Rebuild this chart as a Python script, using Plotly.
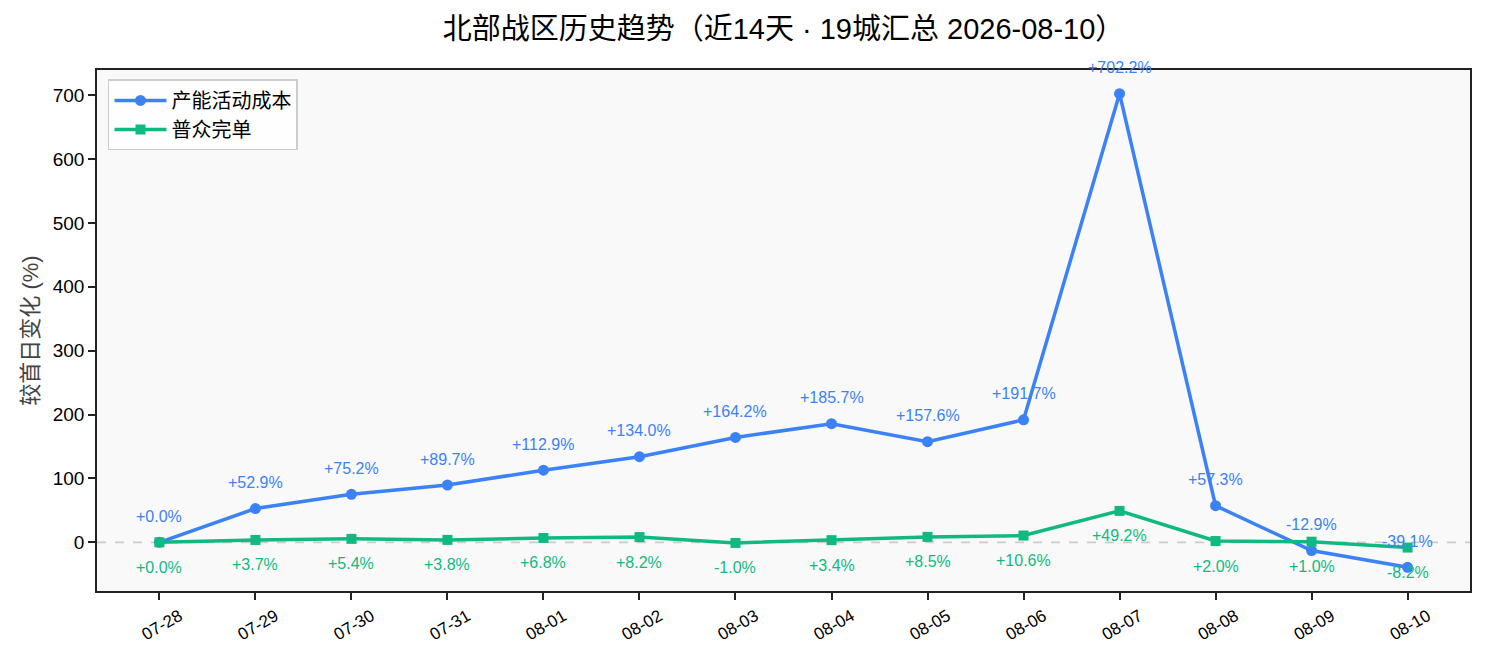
import plotly.graph_objects as go

dates = ["07-28", "07-29", "07-30", "07-31", "08-01", "08-02", "08-03",
         "08-04", "08-05", "08-06", "08-07", "08-08", "08-09", "08-10"]
capacity_cost = [0.0, 52.9, 75.2, 89.7, 112.9, 134.0, 164.2,
                 185.7, 157.6, 191.7, 702.2, 57.3, -12.9, -39.1]
ordinary_done = [0.0, 3.7, 5.4, 3.8, 6.8, 8.2, -1.0,
                 3.4, 8.5, 10.6, 49.2, 2.0, 1.0, -8.2]
series_names = ["产能活动成本", "普众完单"]
title_text = "北部战区历史趋势（近14天 · 19城汇总 2026-08-10）"
ytitle = "较首日变化 (%)"
ytick_vals = [0, 100, 200, 300, 400, 500, 600, 700]

BLUE = "#3b82f6"
GREEN = "#10b981"
FONT = "Liberation Sans, Arial, Noto Sans CJK SC, sans-serif"

x_idx = list(range(len(dates)))

fig = go.Figure()
fig.add_trace(go.Scatter(
    x=x_idx, y=capacity_cost, name=series_names[0], mode="lines+markers",
    line=dict(color=BLUE, width=3.5),
    marker=dict(symbol="circle", size=11, color=BLUE),
))
fig.add_trace(go.Scatter(
    x=x_idx, y=ordinary_done, name=series_names[1], mode="lines+markers",
    line=dict(color=GREEN, width=3.5),
    marker=dict(symbol="square", size=10, color=GREEN),
))

def fmt(v):
    return ("+" if v >= 0 else "") + f"{v:.1f}%"

annotations = []
for i, v in enumerate(capacity_cost):
    annotations.append(dict(x=i, y=v, xref="x", yref="y", text=fmt(v),
                            showarrow=False, yshift=26,
                            font=dict(size=16, color=BLUE, family=FONT)))
for i, v in enumerate(ordinary_done):
    annotations.append(dict(x=i, y=v, xref="x", yref="y", text=fmt(v),
                            showarrow=False, yshift=-25,
                            font=dict(size=16, color=GREEN, family=FONT)))

fig.add_hline(y=0, line=dict(color="#cccccc", width=1.7, dash="dash"), layer="below")

fig.update_layout(
    width=1485, height=660,
    paper_bgcolor="white", plot_bgcolor="#f9f9f9",
    margin=dict(l=97, r=15, t=70, b=69),
    font=dict(family=FONT, color="black", size=18),
    title=dict(text=title_text, x=0.5, xref="paper", xanchor="center",
               y=0.957, yanchor="middle",
               font=dict(size=29, color="black", family=FONT)),
    annotations=annotations,
    showlegend=True,
    legend=dict(x=0.008, y=0.982, xanchor="left", yanchor="top",
                bgcolor="rgba(255,255,255,0.85)", bordercolor="#cccccc", borderwidth=1.5,
                font=dict(size=20, family=FONT), itemwidth=52, tracegroupgap=0),
    xaxis=dict(
        tickmode="array", tickvals=x_idx, ticktext=dates,
        range=[-0.65, 13.65], showgrid=False, zeroline=False,
        showline=True, linecolor="#222222", linewidth=1.6, mirror=True,
        ticks="outside", ticklen=7, tickwidth=1.6, tickcolor="#222222", tickangle=-30,
        tickfont=dict(size=17, color="black"), ticklabelshift=20,
    ),
    yaxis=dict(
        range=[-76.2, 739.3], tickmode="array", tickvals=ytick_vals,
        showgrid=False, zeroline=False,
        showline=True, linecolor="#222222", linewidth=1.6, mirror=True,
        ticks="outside", ticklen=7, tickwidth=1.6, tickcolor="#222222",
        tickfont=dict(size=19, color="black"),
        title=dict(text=ytitle, font=dict(size=22, color="#444444"), standoff=8),
    ),
)

fig.write_html("out.html", config={"displayModeBar": False},
               post_script="document.body.style.margin='0';")
